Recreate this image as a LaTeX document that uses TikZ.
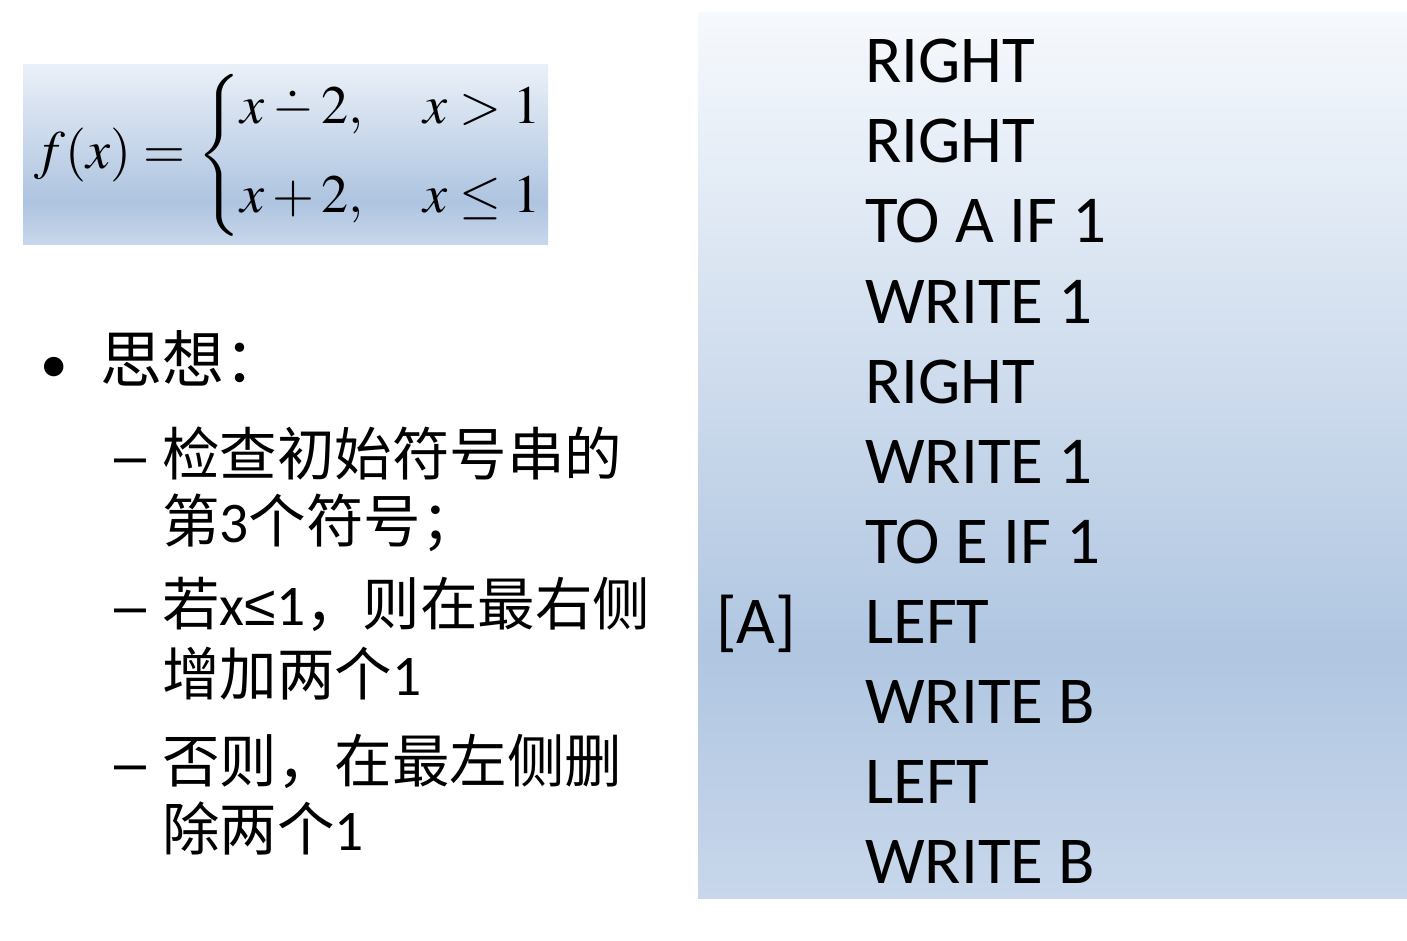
\documentclass[tikz,border=0pt]{standalone}
\usepackage{mathptmx}
\usepackage[no-math]{fontspec}
\setmainfont{Carlito}
\newfontfamily\cjk{Noto Sans CJK SC}
\newfontfamily\arialish{Liberation Sans}
\newcommand{\mydotminus}{\mathbin{\ooalign{$-$\cr\hidewidth\raisebox{0.3em}{$\cdot$}\hidewidth\cr}}}
\definecolor{ptop}{RGB}{246,249,253}
\definecolor{pdark}{RGB}{176,198,225}
\definecolor{pbot}{RGB}{200,215,235}
\definecolor{btop}{RGB}{234,240,248}
\definecolor{bdark}{RGB}{174,196,224}
\definecolor{bbot}{RGB}{200,215,235}
\pgfdeclareverticalshading{panelshade}{100bp}{color(0bp)=(pbot); color(25bp)=(pbot); color(39bp)=(pdark); color(75bp)=(ptop); color(100bp)=(ptop)}
\pgfdeclareverticalshading{boxshade}{100bp}{color(0bp)=(bbot); color(25bp)=(bbot); color(37bp)=(bdark); color(75bp)=(btop); color(100bp)=(btop)}
\tikzset{
  prog/.style={anchor=base west, inner sep=0pt, font=\fontsize{67}{80}\selectfont},
  lvlone/.style={anchor=base west, inner sep=0pt, font=\fontsize{62}{74}\selectfont},
  lvltwo/.style={anchor=base west, inner sep=0pt, font=\fontsize{57.5}{69}\selectfont},
}
\begin{document}
\begin{tikzpicture}[x=1pt,y=-1pt]
\useasboundingbox (0,0) rectangle (1407,941);
\fill[white] (0,0) rectangle (1407,941);
\shade[shading=panelshade] (698,13) rectangle (1407,898);
\shade[shading=boxshade] (23,65) rectangle (548,245);
% formula
\node[inner sep=0pt] (fx) at (288,155) {\fontsize{54}{65}\selectfont $f(x)=\left\{\begin{array}{@{}l@{\hspace{1.1em}}l@{}} x\mydotminus 2, & x>1\\[24pt] x+2, & x\leq 1\end{array}\right.$};
% left bullets
\node[lvlone] (bul) at (40,382) {\fontsize{55}{66}\selectfont •};
\node[lvlone] (idea) at (100,382) {\cjk 思想：};
\node[lvltwo] (d1) at (114,475) {\arialish –};
\node[lvltwo] (s1a) at (162,475) {\cjk 检查初始符号串的};
\node[lvltwo] (s1b) at (162,542) {{\cjk 第}3{\cjk 个符号；}};
\node[lvltwo] (d2) at (114,625) {\arialish –};
\node[lvltwo] (s2a) at (162,625) {{\cjk 若}x{\arialish ≤}1{\cjk ，则在最右侧}};
\node[lvltwo] (s2b) at (162,695) {{\cjk 增加两个}1};
\node[lvltwo] (d3) at (114,782) {\arialish –};
\node[lvltwo] (s3a) at (162,782) {\cjk 否则，在最左侧删};
\node[lvltwo] (s3b) at (162,850) {{\cjk 除两个}1};
% program
\node[prog] (p1) at (865,83) {RIGHT};
\node[prog] (p2) at (865,163) {RIGHT};
\node[prog] (p3) at (865,243) {TO A IF 1};
\node[prog] (p4) at (865,323) {WRITE 1};
\node[prog] (p5) at (865,403) {RIGHT};
\node[prog] (p6) at (865,483) {WRITE 1};
\node[prog] (p7) at (865,563) {TO E IF 1};
\node[prog] (lab) at (716,643) {[A]};
\node[prog] (p8) at (865,643) {LEFT};
\node[prog] (p9) at (865,723) {WRITE B};
\node[prog] (p10) at (865,803) {LEFT};
\node[prog] (p11) at (865,883) {WRITE B};
\end{tikzpicture}
\end{document}
